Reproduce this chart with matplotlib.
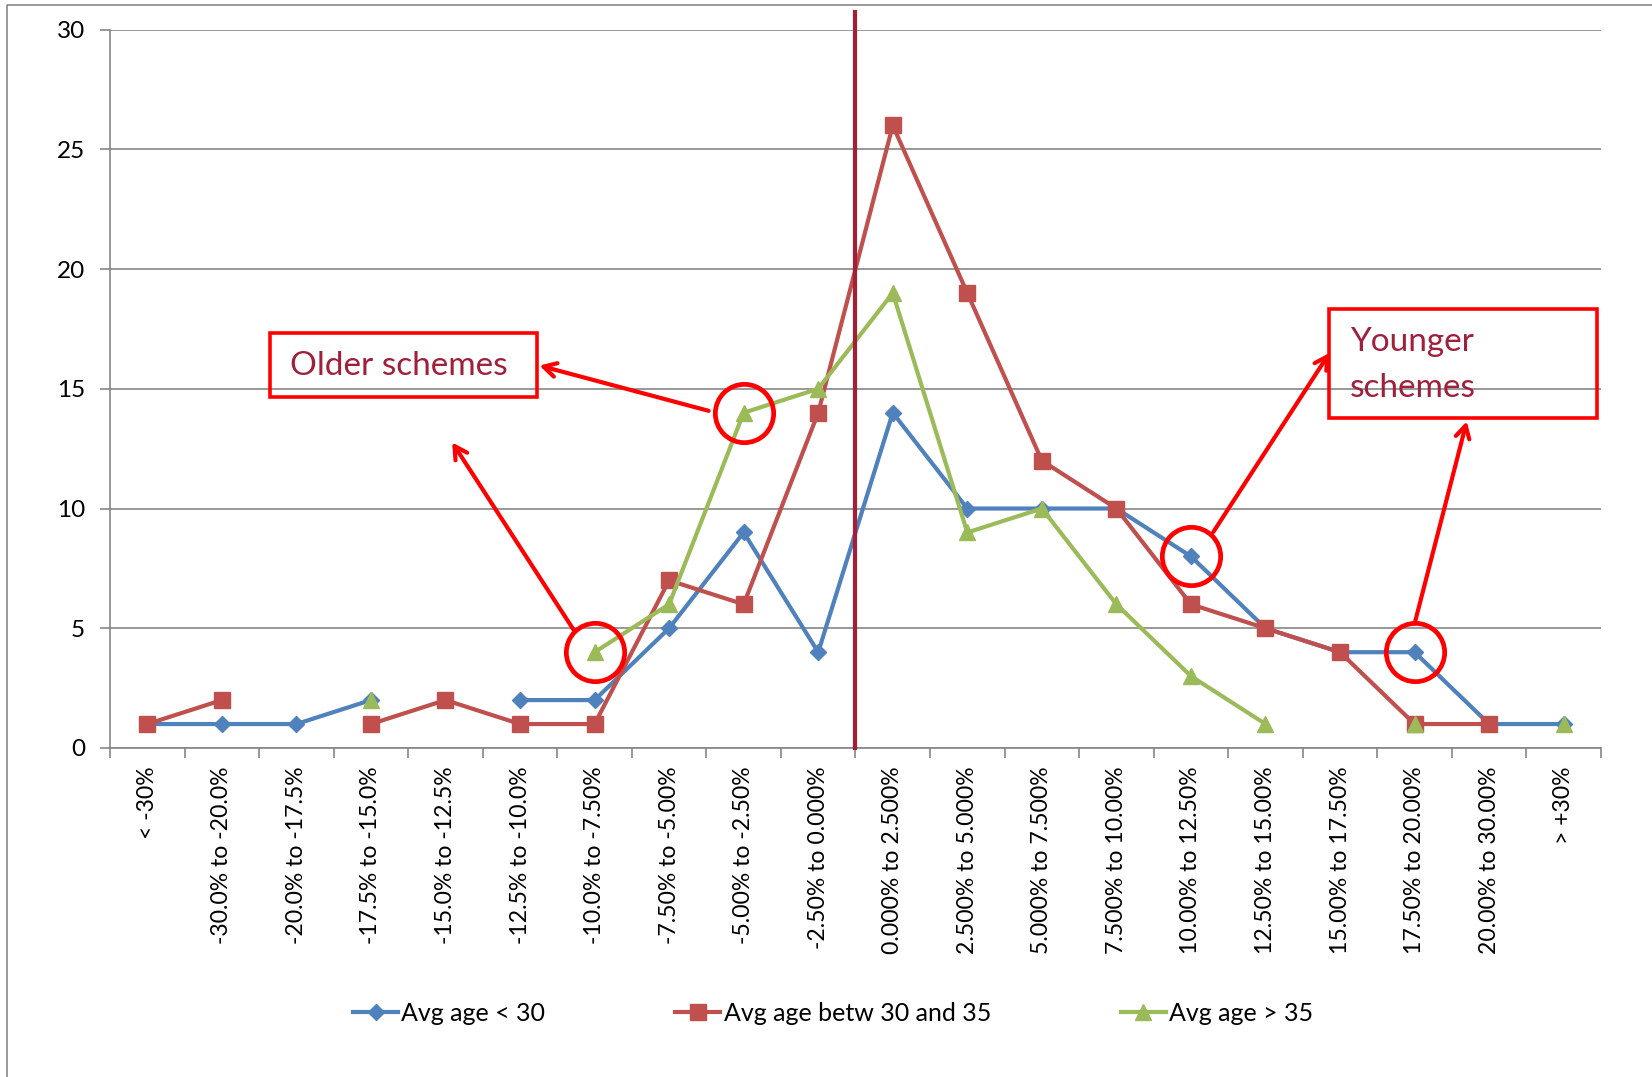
import numpy as np
import matplotlib
matplotlib.use("Agg")
from matplotlib import pyplot as plt
from matplotlib.patches import Rectangle
from matplotlib.lines import Line2D

plt.rcParams['font.family'] = ['Lato', 'DejaVu Sans']

bands = ["< -30%", "-30.0% to -20.0%", "-20.0% to -17.5%", "-17.5% to -15.0%",
         "-15.0% to -12.5%", "-12.5% to -10.0%", "-10.0% to -7.50%", "-7.50% to -5.00%",
         "-5.00% to -2.50%", "-2.50% to 0.000%", "0.000% to 2.500%", "2.500% to 5.000%",
         "5.000% to 7.500%", "7.500% to 10.00%", "10.00% to 12.50%", "12.50% to 15.00%",
         "15.00% to 17.50%", "17.50% to 20.00%", "20.00% to 30.00%", "> +30%"]

nan = np.nan
age_under_30 = [1, 1, 1, 2, nan, 2, 2, 5, 9, 4, 14, 10, 10, 10, 8, 5, 4, 4, 1, 1]
age_30_35 = [1, 2, nan, 1, 2, 1, 1, 7, 6, 14, 26, 19, 12, 10, 6, 5, 4, 1, 1, nan]
age_over_35 = [nan, nan, nan, 2, nan, nan, 4, 6, 14, 15, 19, 9, 10, 6, 3, 1, nan, 1, nan, 1]

x = np.arange(len(bands))
grey = '#868686'

fig = plt.figure(figsize=(16.52, 10.77), dpi=100)
ax = fig.add_axes([0.0666, 0.3055, 0.9025, 0.667])

ax.plot(x, age_under_30, color='#4F81BD', lw=3, marker='D', ms=8.5, label='Avg age < 30')
ax.plot(x, age_30_35, color='#C0504D', lw=3, marker='s', ms=11, label='Avg age betw 30 and 35')
ax.plot(x, age_over_35, color='#9BBB59', lw=3, marker='^', ms=11.5, label='Avg age > 35')

# zero line between negative and positive bands
ax.plot([9.5, 9.5], [0, 30.75], color='#A51E36', lw=3, clip_on=False, zorder=5)

ax.set_xlim(-0.5, len(bands) - 0.5)
ax.set_ylim(0, 30)
ax.set_yticks(range(0, 31, 5))
ax.set_xticks(x)
ax.set_xticklabels(bands, rotation=90, va='top', ha='center')
ax.set_xticks(np.arange(-0.5, len(bands), 1), minor=True)
ax.tick_params(axis='x', which='major', length=0, pad=13, labelsize=16.6)
ax.tick_params(axis='x', which='minor', length=7, width=1.2, color=grey)
ax.tick_params(axis='y', length=7, width=1.2, color=grey, labelsize=17.5, pad=11)
ax.yaxis.grid(True, color=grey, lw=1.2)
ax.set_axisbelow(True)
for s in ['top', 'right']:
    ax.spines[s].set_visible(False)
for s in ['left', 'bottom']:
    ax.spines[s].set_color(grey)
    ax.spines[s].set_linewidth(1.2)

# highlight circles
for cx, cy in [(8, 14), (6, 4), (14, 8), (17, 4)]:
    ax.plot(cx, cy, 'o', ms=42, mfc='none', mec='#FF0000', mew=3.4, zorder=6)

# label boxes
ax.add_patch(Rectangle((1.64, 14.65), 3.59, 2.68, fill=False, ec='#FF0000', lw=2.6, zorder=6))
ax.text(1.92, 15.97, 'Older schemes', color='#A0203C', fontsize=24, va='center', ha='left', zorder=7)
ax.add_patch(Rectangle((15.85, 13.77), 3.6, 4.58, fill=False, ec='#FF0000', lw=2.6,
                       zorder=6, clip_on=False))
ax.text(16.13, 16.94, 'Younger', color='#A0203C', fontsize=24, va='center', ha='left', zorder=7)
ax.text(16.13, 15.05, 'schemes', color='#A0203C', fontsize=24, va='center', ha='left', zorder=7)

arrows = [((7.53, 14.08), (5.26, 15.97)),
          ((5.72, 4.93), (4.09, 12.76)),
          ((14.30, 9.02), (15.86, 16.5)),
          ((17.0, 5.19), (17.70, 13.64))]
for tail, head in arrows:
    ax.annotate('', xy=head, xytext=tail, zorder=7,
                arrowprops=dict(arrowstyle='->,head_length=0.9,head_width=0.5',
                                color='#FF0000', lw=3, shrinkA=0, shrinkB=0,
                                capstyle='round'))

fig.legend(loc='center left', bbox_to_anchor=(0.2137, 0.059), ncol=3, frameon=False,
           fontsize=18, handlelength=1.8, handletextpad=0.13, columnspacing=5.2,
           borderpad=0, borderaxespad=0)

# chart border
fig.add_artist(Line2D([0.0045, 0.0045, 1.0], [0.0, 0.9956, 0.9956],
                      transform=fig.transFigure, color=grey, lw=1.2))

fig.savefig('out.png', dpi=100)
